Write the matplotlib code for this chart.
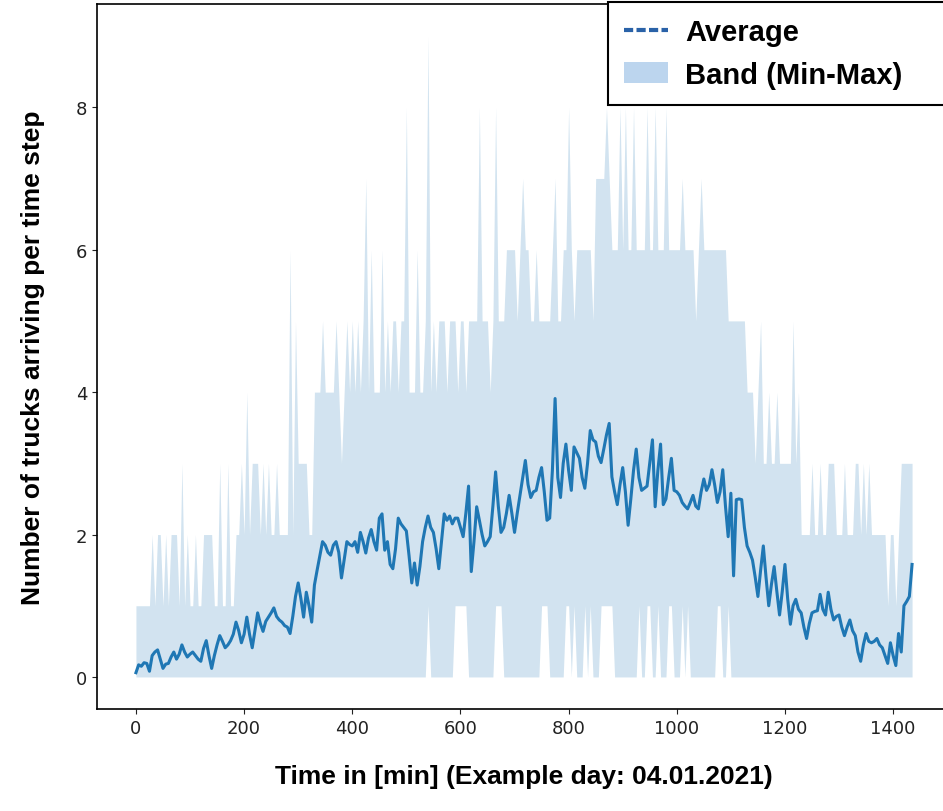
import matplotlib.pyplot as plt
import numpy as np
from matplotlib.lines import Line2D
from matplotlib.patches import Patch

# time steps of 5 minutes over the example day
time_min = np.arange(0, 1440, 5)

# average number of trucks per time step (one row = one hour)
avg_trucks = [
    0.06, 0.17, 0.15, 0.20, 0.19, 0.08, 0.30, 0.35, 0.38, 0.25, 0.12, 0.18,
    0.19, 0.28, 0.35, 0.25, 0.32, 0.45, 0.35, 0.28, 0.32, 0.35, 0.30, 0.25,
    0.22, 0.40, 0.51, 0.30, 0.12, 0.30, 0.45, 0.58, 0.50, 0.41, 0.45, 0.51,
    0.60, 0.77, 0.65, 0.48, 0.60, 0.84, 0.60, 0.41, 0.65, 0.90, 0.75, 0.64,
    0.78, 0.84, 0.90, 0.97, 0.85, 0.80, 0.77, 0.72, 0.70, 0.61, 0.85, 1.13,
    1.32, 1.10, 0.84, 1.19, 1.00, 0.77, 1.29, 1.50, 1.70, 1.90, 1.85, 1.75,
    1.71, 1.85, 1.90, 1.75, 1.39, 1.65, 1.90, 1.86, 1.84, 1.90, 1.75, 2.03,
    1.90, 1.74, 1.95, 2.07, 1.90, 1.78, 2.23, 2.29, 1.78, 1.90, 1.58, 1.52,
    1.80, 2.23, 2.15, 2.10, 2.05, 1.70, 1.32, 1.60, 1.29, 1.55, 1.90, 2.10,
    2.26, 2.10, 2.03, 1.80, 1.52, 1.90, 2.29, 2.20, 2.26, 2.15, 2.23, 2.23,
    2.10, 1.97, 2.30, 2.68, 1.48, 1.90, 2.39, 2.20, 2.00, 1.84, 1.90, 1.97,
    2.40, 2.88, 2.40, 2.03, 2.10, 2.30, 2.55, 2.30, 2.03, 2.30, 2.55, 2.80,
    3.04, 2.70, 2.52, 2.60, 2.62, 2.80, 2.94, 2.60, 2.20, 2.23, 2.90, 3.91,
    2.80, 2.52, 3.00, 3.27, 2.90, 2.62, 3.23, 3.15, 3.07, 2.80, 2.65, 3.00,
    3.46, 3.33, 3.30, 3.10, 3.01, 3.20, 3.40, 3.56, 2.81, 2.60, 2.42, 2.70,
    2.94, 2.60, 2.13, 2.50, 2.90, 3.20, 2.80, 2.62, 2.65, 2.68, 3.00, 3.33,
    2.39, 2.90, 3.27, 2.42, 2.50, 2.80, 3.07, 2.62, 2.60, 2.55, 2.45, 2.40,
    2.36, 2.45, 2.55, 2.40, 2.36, 2.60, 2.78, 2.62, 2.70, 2.91, 2.70, 2.45,
    2.60, 2.91, 2.40, 1.97, 2.58, 1.42, 2.49, 2.50, 2.49, 2.10, 1.84, 1.75,
    1.64, 1.40, 1.13, 1.50, 1.84, 1.40, 1.00, 1.30, 1.55, 1.20, 0.87, 1.20,
    1.58, 1.10, 0.74, 1.00, 1.09, 0.95, 0.90, 0.70, 0.54, 0.75, 0.90, 0.92,
    0.93, 1.16, 0.95, 0.87, 1.19, 0.95, 0.80, 0.85, 0.87, 0.70, 0.58, 0.70,
    0.80, 0.65, 0.58, 0.35, 0.22, 0.45, 0.61, 0.50, 0.48, 0.50, 0.54, 0.45,
    0.41, 0.30, 0.19, 0.48, 0.30, 0.16, 0.61, 0.35, 1.00, 1.06, 1.13, 1.58,
]

# maximum over all runs
max_trucks = [
    1, 1, 1, 1, 1, 1, 2, 1, 2, 2, 1, 2,
    1, 2, 2, 2, 1, 3, 1, 2, 1, 1, 2, 1,
    1, 2, 2, 2, 2, 1, 1, 3, 1, 1, 3, 1,
    1, 2, 2, 3, 2, 4, 2, 3, 3, 3, 2, 3,
    2, 3, 2, 2, 3, 2, 2, 2, 2, 6, 2, 5,
    3, 3, 3, 3, 2, 2, 4, 4, 4, 5, 4, 4,
    4, 4, 5, 4, 3, 4, 5, 4, 5, 4, 5, 4,
    5, 7, 4, 6, 4, 4, 4, 6, 4, 5, 4, 5,
    5, 4, 5, 5, 8, 4, 4, 4, 6, 4, 4, 5,
    9, 4, 5, 4, 5, 5, 5, 4, 5, 5, 5, 4,
    5, 5, 4, 5, 5, 5, 5, 8, 5, 5, 5, 4,
    5, 8, 5, 5, 5, 6, 6, 6, 6, 5, 6, 7,
    6, 6, 5, 5, 6, 5, 5, 5, 5, 5, 6, 7,
    5, 5, 6, 6, 8, 6, 5, 6, 6, 6, 6, 6,
    6, 5, 7, 7, 7, 7, 8, 7, 6, 6, 6, 8,
    6, 8, 6, 6, 8, 6, 6, 6, 6, 8, 6, 6,
    8, 6, 6, 6, 8, 6, 6, 6, 6, 6, 7, 6,
    6, 6, 6, 5, 6, 7, 6, 6, 6, 6, 6, 6,
    6, 6, 6, 5, 5, 5, 5, 5, 5, 5, 4, 4,
    4, 3, 4, 5, 3, 3, 4, 3, 3, 4, 3, 3,
    3, 3, 3, 5, 3, 4, 2, 2, 2, 2, 3, 2,
    2, 3, 2, 2, 3, 3, 3, 2, 2, 2, 3, 2,
    2, 2, 3, 3, 2, 3, 2, 3, 2, 2, 2, 2,
    2, 2, 1, 2, 2, 1, 2, 3, 3, 3, 3, 3,
]

# minimum over all runs
min_trucks = [
    0, 0, 0, 0, 0, 0, 0, 0, 0, 0, 0, 0,
    0, 0, 0, 0, 0, 0, 0, 0, 0, 0, 0, 0,
    0, 0, 0, 0, 0, 0, 0, 0, 0, 0, 0, 0,
    0, 0, 0, 0, 0, 0, 0, 0, 0, 0, 0, 0,
    0, 0, 0, 0, 0, 0, 0, 0, 0, 0, 0, 0,
    0, 0, 0, 0, 0, 0, 0, 0, 0, 0, 0, 0,
    0, 0, 0, 0, 0, 0, 0, 0, 0, 0, 0, 0,
    0, 0, 0, 0, 0, 0, 0, 0, 0, 0, 0, 0,
    0, 0, 0, 0, 0, 0, 0, 0, 0, 0, 0, 0,
    1, 0, 0, 0, 0, 0, 0, 0, 0, 0, 1, 1,
    1, 1, 1, 0, 0, 0, 0, 0, 0, 0, 0, 0,
    0, 1, 1, 1, 0, 0, 0, 0, 0, 0, 0, 0,
    0, 0, 0, 0, 0, 0, 1, 1, 1, 0, 0, 0,
    0, 0, 0, 1, 1, 0, 1, 0, 0, 0, 1, 0,
    1, 0, 0, 0, 1, 1, 1, 1, 1, 0, 0, 0,
    0, 0, 0, 0, 0, 0, 1, 0, 0, 1, 1, 0,
    0, 1, 0, 0, 0, 1, 1, 0, 0, 0, 1, 0,
    1, 0, 0, 0, 0, 0, 0, 0, 0, 0, 0, 1,
    1, 0, 0, 1, 0, 0, 0, 0, 0, 0, 0, 0,
    0, 0, 0, 0, 0, 0, 0, 0, 0, 0, 0, 0,
    0, 0, 0, 0, 0, 0, 0, 0, 0, 0, 0, 0,
    0, 0, 0, 0, 0, 0, 0, 0, 0, 0, 0, 0,
    0, 0, 0, 0, 0, 0, 0, 0, 0, 0, 0, 0,
    0, 0, 0, 0, 0, 0, 0, 0, 0, 0, 0, 0,
]

fig = plt.figure(figsize=(9.43, 8.12), dpi=100)
ax = fig.add_axes([97/943, 102/812, 854/943, 705/812])

ax.fill_between(time_min, min_trucks, max_trucks, color='#1f77b4', alpha=0.2, linewidth=0)
ax.plot(time_min, avg_trucks, color='#1f77b4', lw=2.2)

ax.set_xlim(-72, 1507)
ax.set_ylim(-0.45, 9.45)
ax.set_xticks([0, 200, 400, 600, 800, 1000, 1200, 1400])
ax.set_yticks([0, 2, 4, 6, 8])
ax.tick_params(labelsize=13, colors='#222222')
for sp in ax.spines.values():
    sp.set_linewidth(1.2)
    sp.set_color('black')

label_font = dict(family='Liberation Sans', weight='bold', size=19)
ax.set_xlabel('Time in [min] (Example day: 04.01.2021)', labelpad=20, **label_font)
ax.set_ylabel('Number of trucks arriving per time step', labelpad=22, **label_font)

#LEGEND (stretched to the right edge like in the original)
handles = [Line2D([0], [0], color='#2a62a8', lw=3, linestyle=(0, (2.2, 0.8))),
           Patch(facecolor='#bcd5ee', edgecolor='none')]
leg = fig.legend(handles, ['Average', 'Band (Min-Max)'], loc='upper left',
                 bbox_to_anchor=(608/943, 0, 345/943, 1 - 3/812),
                 bbox_transform=fig.transFigure, mode='expand',
                 borderaxespad=0, fancybox=False, framealpha=1, edgecolor='black',
                 prop=dict(family='Liberation Sans', weight='bold', size=21),
                 handlelength=1.5, handletextpad=0.6, labelspacing=0.5,
                 borderpad=0.55)
leg.get_frame().set_linewidth(1.5)

plt.savefig('out.png', dpi=100)
